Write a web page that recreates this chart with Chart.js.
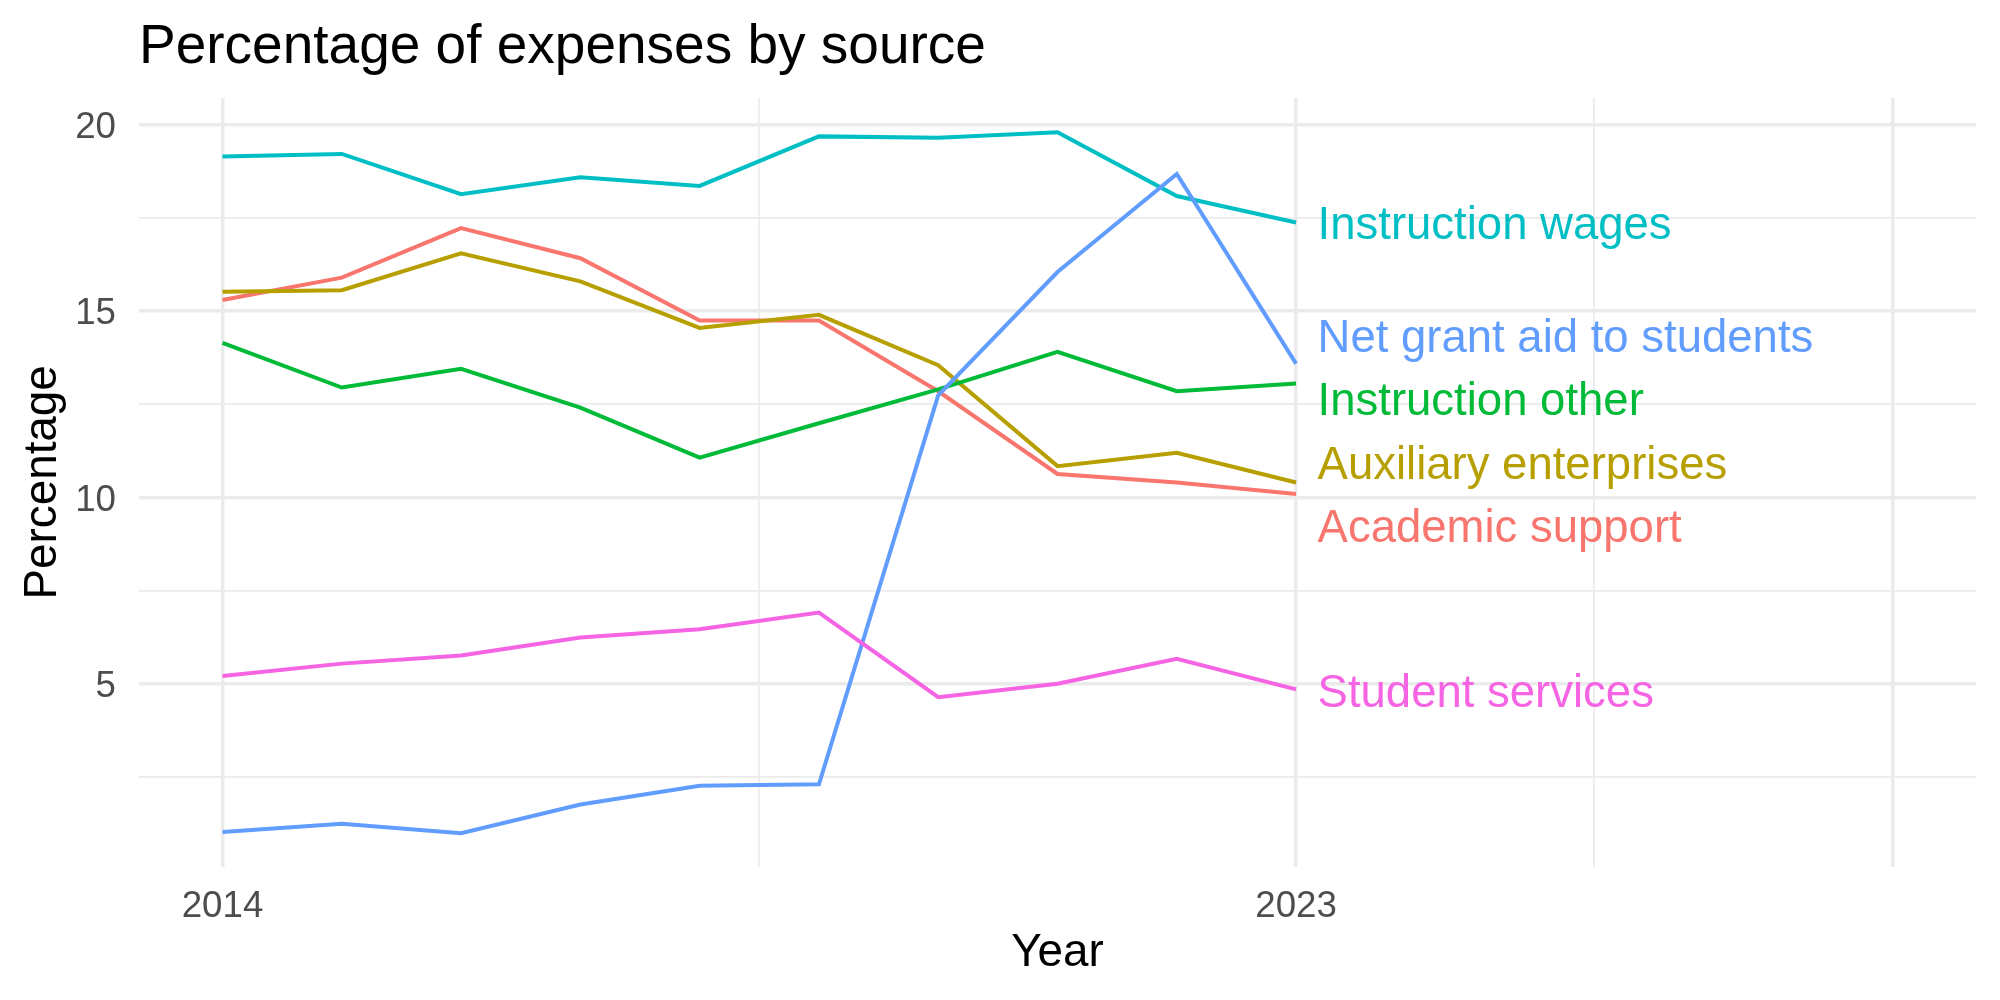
<!DOCTYPE html>
<html>
<head>
<meta charset="utf-8">
<title>Percentage of expenses by source</title>
<script src="https://cdn.jsdelivr.net/npm/chart.js@4.4.1/dist/chart.umd.min.js"></script>
<style>
  html, body { margin: 0; padding: 0; background: #fff; }
</style>
</head>
<body>
<canvas id="expenseChart" width="2000" height="1000"></canvas>
<script>
// ➤ Data
const years = [2014, 2015, 2016, 2017, 2018, 2019, 2020, 2021, 2022, 2023];
const seriesNames = ["Academic support", "Auxiliary enterprises", "Instruction other",
    "Instruction wages", "Net grant aid to students", "Student services"];
const academicSupport = [15.30, 15.90, 17.23, 16.42, 14.75, 14.75, 12.85, 10.63, 10.40, 10.09];
const auxiliaryEnterprises = [15.52, 15.56, 16.55, 15.80, 14.55, 14.90, 13.55, 10.84, 11.20, 10.40];
const instructionOther = [14.15, 12.95, 13.45, 12.41, 11.07, 11.99, 12.90, 13.91, 12.85, 13.06];
const instructionWages = [19.15, 19.22, 18.14, 18.59, 18.36, 19.69, 19.65, 19.80, 18.09, 17.38];
const netGrantAid = [1.02, 1.24, 0.99, 1.76, 2.26, 2.30, 12.74, 16.05, 18.68, 13.59];
const studentServices = [5.21, 5.54, 5.76, 6.24, 6.46, 6.91, 4.64, 5.00, 5.67, 4.85];

// label spots at the line ends (repelled so they don't overlap)
const labelYear = 2023.18;
const labelValues = [9.13, 10.84, 12.54, 17.27, 14.24, 4.71];

// ticks
const xTicks = [2014, 2018.5, 2023, 2025.5, 2028];
const xTickLabels = ["2014", "", "2023", "", ""];
const xMajor = [2014, 2023, 2028];
const yTicks = [2.5, 5, 7.5, 10, 12.5, 15, 17.5, 20];
const yTickLabels = ["", "5", "", "10", "", "15", "", "20"];
const yMajor = [5, 10, 15, 20];

// ggplot hue palette
const colors = ["#F8766D", "#B79F00", "#00BA38", "#00BFC4", "#619CFF", "#F564E3"];
const FONT = '"Liberation Sans", Arial, Helvetica, sans-serif';
const GRID = "#EBEBEB";

const allSeries = [academicSupport, auxiliaryEnterprises, instructionOther,
    instructionWages, netGrantAid, studentServices];

// ➤ End labels
const endLabels = {
    id: "endLabels",
    afterDatasetsDraw(chart) {
        const { ctx, scales: { x, y } } = chart;
        ctx.save();
        ctx.font = "45.5px " + FONT;
        ctx.textAlign = "left";
        ctx.textBaseline = "middle";
        seriesNames.forEach((name, i) => {
            ctx.fillStyle = colors[i];
            ctx.fillText(name, x.getPixelForValue(labelYear), y.getPixelForValue(labelValues[i]));
        });
        ctx.restore();
    }
};

const ctx = document.getElementById("expenseChart").getContext("2d");
new Chart(ctx, {
    type: "line",
    data: {
        datasets: seriesNames.map((name, i) => ({
            label: name,
            data: allSeries[i].map((v, j) => ({ x: years[j], y: v })),
            borderColor: colors[i],
            borderWidth: 4,
            pointRadius: 0,
            tension: 0,
            fill: false,
            order: seriesNames.length - i
        }))
    },
    options: {
        responsive: false,
        animation: false,
        devicePixelRatio: 1,
        layout: { padding: { left: 0, right: 24, top: 0, bottom: 0 } },
        plugins: {
            legend: { display: false },
            tooltip: { enabled: false },
            title: {
                display: true,
                text: "Percentage of expenses by source",
                align: "start",
                fullSize: false,
                color: "#000000",
                font: { family: FONT, size: 55, weight: "normal" },
                padding: { top: 15, bottom: 17 }
            }
        },
        scales: {
            x: {
                type: "linear",
                min: 2013.3,
                max: 2028.7,
                afterBuildTicks: s => { s.ticks = xTicks.map(v => ({ value: v })); },
                afterFit: s => { s.height = 133.3; },
                border: { display: false },
                grid: {
                    color: GRID,
                    drawTicks: false,
                    lineWidth: c => (c.tick && xMajor.includes(c.tick.value)) ? 3.5 : 1.75
                },
                ticks: {
                    autoSkip: false,
                    maxRotation: 0,
                    padding: 18,
                    color: "#4D4D4D",
                    font: { family: FONT, size: 36.7 },
                    callback: (v, i) => xTickLabels[i]
                },
                title: {
                    display: true,
                    text: "Year",
                    color: "#000000",
                    font: { family: FONT, size: 45.8 },
                    padding: { top: 0, bottom: 19.5 }
                }
            },
            y: {
                type: "linear",
                min: 0.09,
                max: 20.72,
                afterBuildTicks: s => { s.ticks = yTicks.map(v => ({ value: v })); },
                afterFit: s => { s.width = 139; },
                border: { display: false },
                grid: {
                    color: GRID,
                    drawTicks: false,
                    lineWidth: c => (c.tick && yMajor.includes(c.tick.value)) ? 3.5 : 1.75
                },
                ticks: {
                    autoSkip: false,
                    padding: 23,
                    labelOffset: 3,
                    color: "#4D4D4D",
                    font: { family: FONT, size: 36.7 },
                    callback: (v, i) => yTickLabels[i]
                },
                title: {
                    display: true,
                    text: "Percentage",
                    color: "#000000",
                    font: { family: FONT, size: 45.8 },
                    padding: { top: 16, bottom: 0 }
                }
            }
        }
    },
    plugins: [endLabels]
});
</script>
</body>
</html>
